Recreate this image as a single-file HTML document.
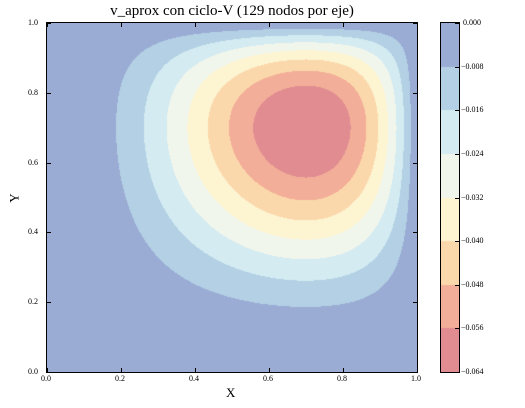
<!DOCTYPE html>
<html><head><meta charset="utf-8"><style>
body{margin:0;background:#fff;width:525px;height:408px;overflow:hidden;font-family:"Liberation Serif",serif;}
.t{position:absolute;font-size:8px;color:#000;white-space:nowrap}
</style></head><body>
<div style="position:absolute;left:47px;width:370px;top:3px;text-align:center;font-size:15px;">v_aprox con ciclo-V (129 nodos por eje)</div>
<canvas id="plot" width="370" height="349" style="position:absolute;left:47px;top:23px;"></canvas>
<div style="position:absolute;left:46px;top:22px;width:370px;height:349px;border:1px solid #000;"></div>
<canvas id="cbar" width="18" height="349" style="position:absolute;left:441px;top:23px;"></canvas>
<div style="position:absolute;left:440px;top:22px;width:18px;height:349px;border:1px solid #000;"></div>
<div id="ticks"></div>
<div style="position:absolute;left:226px;top:385px;font-size:13px;">X</div>
<div style="position:absolute;left:10px;top:190px;font-size:13px;transform:rotate(-90deg);">Y</div>
<script>
const levels=[0,-0.008,-0.016,-0.024,-0.032,-0.040,-0.048,-0.056,-0.064];
const bandColors=["#9aabd4","#b3d0e4","#d3ebf1","#f1f6ec","#fdf4d2","#fbd8ab","#f3ae99","#e08c90"];
const peakValue=-0.0646;
const peakX=0.7, peakY=0.7;
const xTicks=[0,0.2,0.4,0.6,0.8,1.0];
const yTicks=[0,0.2,0.4,0.6,0.8,1.0];
const cbTicks=["0.000","\u22120.008","\u22120.016","\u22120.024","\u22120.032","\u22120.040","\u22120.048","\u22120.056","\u22120.064"];
const PL=47,PT=23,PW=370,PH=349,CBL=441;
function sx(v){return PL+v*PW;} function sy(v){return PT+(1-v)*PH;}
function hx(x,c){const p=c/(1-c);const g=t=>Math.pow(t,p)*(1-t);return g(x)/g(c);}
function field(x,y){return peakValue*hx(x,peakX)*hx(y,peakY);}
function hexRGB(h){return [1,3,5].map(i=>parseInt(h.substr(i,2),16));}
const cols=bandColors.map(hexRGB);
function band(v){for(let i=0;i<levels.length-1;i++){if(v<=levels[i]&&v>levels[i+1])return i;}return v>levels[0]?0:bandColors.length-1;}
const ctx=document.getElementById('plot').getContext('2d');
const img=ctx.createImageData(PW,PH);
for(let j=0;j<PH;j++)for(let i=0;i<PW;i++){
 const x=(i+0.5)/PW,y=1-(j+0.5)/PH;const c=cols[band(field(x,y))];const k=(j*PW+i)*4;
 img.data[k]=c[0];img.data[k+1]=c[1];img.data[k+2]=c[2];img.data[k+3]=255;}
ctx.putImageData(img,0,0);
const cb=document.getElementById('cbar').getContext('2d');
const n=bandColors.length;
bandColors.forEach((c,i)=>{cb.fillStyle=c;cb.fillRect(0,Math.round(i*PH/n),18,Math.ceil(PH/n)+1);});
const T=document.getElementById('ticks');
function lab(txt,l,t,name){const d=document.createElement('div');d.className='t';d.textContent=txt;d.style.left=l+'px';d.style.top=t+'px';


T.appendChild(d);return d;}
function tick(l,t,w,h,name){const d=document.createElement('div');d.style.cssText=`position:absolute;left:${l}px;top:${t}px;width:${w}px;height:${h}px;background:#000`;


T.appendChild(d);}
xTicks.forEach(v=>{lab(v.toFixed(1),sx(v)-6,374,'x-tick-label');tick(sx(v),PT+PH-4,1,4,'x-tick');tick(sx(v),PT,1,4,'x-tick');});
yTicks.forEach(v=>{lab(v.toFixed(1),28,sy(v)-5,'y-tick-label');tick(PL,sy(v),4,1,'y-tick');tick(PL+PW-4,sy(v),4,1,'y-tick');});
cbTicks.forEach((s,i)=>{const y=PT+i*PH/(cbTicks.length-1);lab(s,s[0]=='0'?463:461,y-5,'colorbar-tick-label');tick(CBL+14,y,4,1,'colorbar-tick');});
</script>
</body></html>
